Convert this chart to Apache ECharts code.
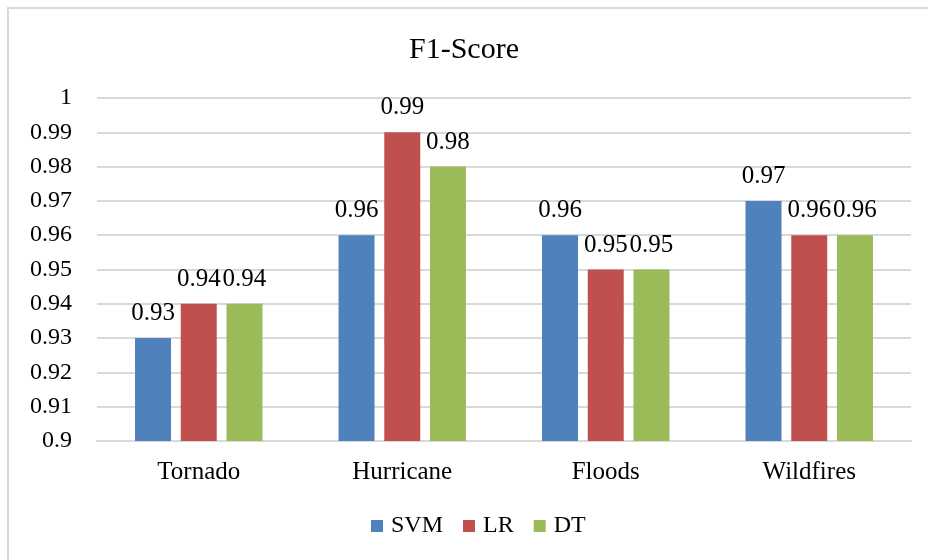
<!DOCTYPE html>
<html>
<head>
<meta charset="utf-8">
<script src="https://cdn.jsdelivr.net/npm/echarts@6/dist/echarts.min.js"></script>
<style>
  html, body { margin: 0; padding: 0; background: #fff; }
  #chart { width: 928px; height: 560px; }
</style>
</head>
<body>
<div id="chart"></div>
<script>
// F1-Score per disaster type for three classifiers
const categories = ['Tornado', 'Hurricane', 'Floods', 'Wildfires'];
const svmScores = [0.93, 0.96, 0.96, 0.97];
const lrScores  = [0.94, 0.99, 0.95, 0.96];
const dtScores  = [0.94, 0.98, 0.95, 0.96];
const seriesNames = ['SVM', 'LR', 'DT'];
const seriesColors = ['#4F81BD', '#C0504D', '#9BBB59'];

const FONT = '"Liberation Serif", "Times New Roman", serif';

const chart = echarts.init(document.getElementById('chart'), null, { renderer: 'canvas' });

function barSeries(name, data, color) {
  return {
    name: name,
    type: 'bar',
    data: data,
    barWidth: 36,
    barGap: '27%',
    itemStyle: { color: color },
    label: {
      show: true,
      position: 'top',
      distance: 12,
      color: '#000',
      fontFamily: FONT,
      fontSize: 25,
      formatter: p => String(p.value)
    }
  };
}

chart.setOption({
  animation: false,
  backgroundColor: '#fff',
  graphic: [{
    type: 'rect',
    shape: { x: 8, y: 8, width: 940, height: 570 },
    style: { fill: 'none', stroke: '#d9d9d9', lineWidth: 2 },
    silent: true,
    z: -1
  }],
  title: {
    text: 'F1-Score',
    left: 'center',
    top: 30,
    textStyle: { fontFamily: FONT, fontSize: 30, fontWeight: 'normal', color: '#000' }
  },
  legend: {
    data: seriesNames,
    bottom: 17,
    left: 366,
    itemWidth: 12,
    itemHeight: 12,
    itemGap: 20,
    icon: 'rect',
    textStyle: { fontFamily: FONT, fontSize: 24, color: '#000', padding: [0, 0, 0, 3] }
  },
  grid: { left: 97, right: 17, top: 98, bottom: 119 },
  xAxis: {
    type: 'category',
    data: categories,
    axisTick: { show: false },
    axisLine: { show: true, lineStyle: { color: '#d9d9d9', width: 2 } },
    axisLabel: { fontFamily: FONT, fontSize: 25, color: '#000', margin: 19 }
  },
  yAxis: {
    type: 'value',
    min: 0.9,
    max: 1,
    interval: 0.01,
    axisLine: { show: false },
    axisTick: { show: false },
    splitLine: { lineStyle: { color: '#d9d9d9', width: 2 } },
    axisLabel: {
      fontFamily: FONT, fontSize: 24, color: '#000', margin: 25,
      formatter: v => String(parseFloat(v.toFixed(2)))
    }
  },
  series: [
    barSeries(seriesNames[0], svmScores, seriesColors[0]),
    barSeries(seriesNames[1], lrScores, seriesColors[1]),
    barSeries(seriesNames[2], dtScores, seriesColors[2])
  ]
});
</script>
</body>
</html>
